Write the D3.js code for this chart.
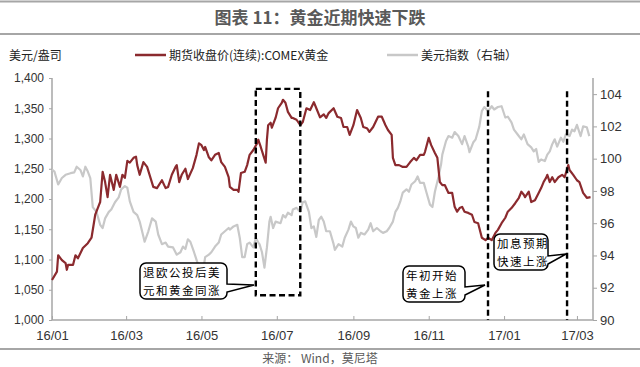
<!DOCTYPE html>
<html><head><meta charset="utf-8">
<script src="https://cdn.jsdelivr.net/npm/d3@7"></script>
<style>body{margin:0;background:#fff}svg{display:block}</style>
</head><body><svg id="c" width="640" height="367"></svg>
<script>
const goldDates=["2016-01-01","2016-01-05","2016-01-06","2016-01-09","2016-01-12","2016-01-13","2016-01-14","2016-01-18","2016-01-20","2016-01-22","2016-01-26","2016-01-30","2016-02-02","2016-02-05","2016-02-08","2016-02-09","2016-02-11","2016-02-13","2016-02-15","2016-02-17","2016-02-20","2016-02-22","2016-02-25","2016-02-27","2016-02-29","2016-03-02","2016-03-04","2016-03-07","2016-03-09","2016-03-10","2016-03-12","2016-03-15","2016-03-18","2016-03-20","2016-03-23","2016-03-26","2016-03-30","2016-04-02","2016-04-04","2016-04-07","2016-04-10","2016-04-11","2016-04-13","2016-04-15","2016-04-18","2016-04-20","2016-04-24","2016-04-27","2016-04-29","2016-05-01","2016-05-03","2016-05-04","2016-05-07","2016-05-09","2016-05-12","2016-05-15","2016-05-17","2016-05-20","2016-05-23","2016-05-24","2016-05-27","2016-05-30","2016-05-31","2016-06-02","2016-06-05","2016-06-07","2016-06-09","2016-06-12","2016-06-15","2016-06-16","2016-06-18","2016-06-20","2016-06-22","2016-06-23","2016-06-24","2016-06-26","2016-06-27","2016-06-30","2016-07-02","2016-07-05","2016-07-06","2016-07-08","2016-07-10","2016-07-13","2016-07-14","2016-07-17","2016-07-20","2016-07-22","2016-07-25","2016-07-28","2016-07-31","2016-08-02","2016-08-05","2016-08-08","2016-08-10","2016-08-12","2016-08-16","2016-08-19","2016-08-22","2016-08-24","2016-08-27","2016-08-29","2016-09-01","2016-09-04","2016-09-07","2016-09-09","2016-09-12","2016-09-14","2016-09-17","2016-09-21","2016-09-24","2016-09-27","2016-09-29","2016-10-02","2016-10-03","2016-10-05","2016-10-08","2016-10-11","2016-10-14","2016-10-17","2016-10-20","2016-10-22","2016-10-25","2016-10-28","2016-10-29","2016-11-01","2016-11-03","2016-11-06","2016-11-08","2016-11-10","2016-11-12","2016-11-14","2016-11-17","2016-11-20","2016-11-22","2016-11-24","2016-11-25","2016-11-26","2016-11-28","2016-11-30","2016-12-03","2016-12-06","2016-12-08","2016-12-11","2016-12-14","2016-12-17","2016-12-19","2016-12-22","2016-12-25","2016-12-27","2016-12-30","2017-01-02","2017-01-04","2017-01-07","2017-01-10","2017-01-13","2017-01-15","2017-01-17","2017-01-18","2017-01-21","2017-01-23","2017-01-26","2017-01-29","2017-01-31","2017-02-02","2017-02-04","2017-02-05","2017-02-07","2017-02-09","2017-02-11","2017-02-14","2017-02-17","2017-02-19","2017-02-22","2017-02-23","2017-02-26","2017-03-01","2017-03-03","2017-03-06","2017-03-09","2017-03-12"];
const goldValues=[1066,1080,1107,1099,1094,1083,1091,1091,1107,1102,1119,1127,1136,1174,1190,1195,1245,1228,1203,1240,1215,1240,1220,1240,1235,1263,1260,1268,1270,1256,1240,1261,1253,1240,1220,1218,1231,1218,1220,1240,1253,1256,1228,1240,1250,1233,1251,1273,1292,1289,1281,1286,1269,1264,1273,1276,1261,1253,1236,1220,1215,1215,1212,1243,1245,1256,1273,1281,1292,1298,1286,1273,1260,1298,1322,1326,1318,1334,1350,1359,1364,1359,1344,1334,1334,1331,1322,1327,1350,1347,1360,1350,1335,1340,1334,1342,1350,1336,1334,1319,1319,1306,1322,1347,1334,1319,1317,1311,1319,1336,1336,1322,1314,1306,1268,1256,1256,1253,1253,1261,1268,1264,1273,1273,1278,1301,1289,1276,1268,1228,1223,1223,1210,1210,1187,1179,1182,1185,1187,1179,1177,1174,1162,1160,1136,1132,1136,1132,1144,1149,1160,1169,1179,1185,1193,1202,1212,1207,1203,1212,1195,1198,1210,1218,1228,1235,1240,1228,1236,1228,1236,1240,1236,1256,1248,1240,1231,1228,1210,1202,1203];
const dxyDates=["2016-01-01","2016-01-03","2016-01-06","2016-01-09","2016-01-12","2016-01-16","2016-01-19","2016-01-21","2016-01-24","2016-01-26","2016-01-28","2016-01-30","2016-02-01","2016-02-03","2016-02-06","2016-02-09","2016-02-11","2016-02-13","2016-02-16","2016-02-18","2016-02-21","2016-02-24","2016-02-26","2016-02-29","2016-03-02","2016-03-04","2016-03-07","2016-03-10","2016-03-12","2016-03-16","2016-03-19","2016-03-22","2016-03-25","2016-03-27","2016-03-30","2016-04-02","2016-04-04","2016-04-08","2016-04-11","2016-04-14","2016-04-16","2016-04-18","2016-04-20","2016-04-22","2016-04-25","2016-04-28","2016-05-01","2016-05-03","2016-05-04","2016-05-07","2016-05-09","2016-05-12","2016-05-15","2016-05-17","2016-05-20","2016-05-23","2016-05-24","2016-05-27","2016-05-30","2016-06-01","2016-06-03","2016-06-05","2016-06-07","2016-06-09","2016-06-12","2016-06-14","2016-06-16","2016-06-17","2016-06-19","2016-06-21","2016-06-23","2016-06-25","2016-06-26","2016-06-28","2016-06-30","2016-07-04","2016-07-06","2016-07-08","2016-07-10","2016-07-13","2016-07-14","2016-07-17","2016-07-20","2016-07-22","2016-07-24","2016-07-27","2016-07-29","2016-07-31","2016-08-02","2016-08-04","2016-08-06","2016-08-08","2016-08-10","2016-08-13","2016-08-16","2016-08-17","2016-08-20","2016-08-23","2016-08-25","2016-08-28","2016-08-30","2016-09-01","2016-09-03","2016-09-05","2016-09-07","2016-09-10","2016-09-13","2016-09-15","2016-09-17","2016-09-20","2016-09-23","2016-09-25","2016-09-28","2016-09-30","2016-10-03","2016-10-05","2016-10-07","2016-10-09","2016-10-11","2016-10-14","2016-10-16","2016-10-18","2016-10-21","2016-10-23","2016-10-25","2016-10-28","2016-10-30","2016-11-02","2016-11-04","2016-11-06","2016-11-09","2016-11-11","2016-11-12","2016-11-15","2016-11-17","2016-11-20","2016-11-22","2016-11-25","2016-11-28","2016-11-30","2016-12-03","2016-12-04","2016-12-07","2016-12-09","2016-12-12","2016-12-14","2016-12-16","2016-12-19","2016-12-22","2016-12-24","2016-12-27","2016-12-30","2017-01-02","2017-01-04","2017-01-07","2017-01-09","2017-01-12","2017-01-15","2017-01-17","2017-01-20","2017-01-23","2017-01-25","2017-01-27","2017-01-29","2017-01-31","2017-02-03","2017-02-05","2017-02-07","2017-02-09","2017-02-11","2017-02-13","2017-02-16","2017-02-18","2017-02-20","2017-02-23","2017-02-25","2017-02-27","2017-03-01","2017-03-04","2017-03-06","2017-03-09","2017-03-11"];
const dxyValues=[99.33,99.2,98.4,98.8,99.0,99.1,99.15,99.5,99.3,98.9,99.5,99.2,98.8,97.0,96.7,95.9,95.7,96.3,96.7,96.85,97.3,97.6,98.1,98.3,98.2,97.35,96.7,96.5,96.1,94.85,95.5,96.3,96.1,95.3,94.7,94.8,94.55,94.5,94.05,94.2,94.55,94.4,95.0,94.85,94.2,93.5,93.3,93.4,93.9,94.05,94.2,94.55,94.8,95.3,95.5,95.7,95.6,95.8,95.9,95.1,93.9,93.9,94.7,94.8,94.5,95.1,94.8,94.7,94.2,93.25,94.5,96.1,96.4,95.7,96.1,96.0,96.5,96.35,96.65,96.5,96.85,96.95,96.7,97.3,97.35,96.7,95.7,95.8,95.15,96.2,96.4,96.1,95.5,95.5,94.7,94.35,94.7,94.55,95.1,95.6,96.1,95.8,95.7,95.1,95.4,95.3,95.6,96.0,95.5,95.7,95.5,95.4,95.5,95.7,96.1,96.7,96.95,97.35,97.9,98.1,97.95,98.4,98.6,98.9,98.5,98.5,97.95,97.15,97.0,97.95,98.9,99.65,100.25,101.1,101.4,101.3,101.65,101.4,100.9,101.4,100.75,100.4,101.0,101.2,102.0,102.95,103.2,102.95,103.25,103.05,103.2,103.25,102.55,102.6,102.25,101.8,101.5,101.2,101.5,100.9,100.7,100.45,100.6,99.8,99.95,99.85,100.25,100.45,100.9,101.2,100.75,101.3,101.05,101.5,101.4,101.8,101.7,102.1,101.4,102.0,101.95,101.4];
const leftTicks=[1000,1050,1100,1150,1200,1250,1300,1350,1400];
const rightTicks=[90,92,94,96,98,100,102,104];
const xTickDates=["2016-01-01","2016-03-01","2016-05-01","2016-07-01","2016-09-01","2016-11-01","2017-01-01","2017-03-01"];
const xTickLabels=["16/01","16/03","16/05","16/07","16/09","16/11","17/01","17/03"];
const seriesNames=["期货收盘价(连续):COMEX黄金","美元指数（右轴）"];
const eventDates=["2016-12-19","2017-02-21"];
const brexitWindow=["2016-06-14","2016-07-20"];

const parse=d3.timeParse("%Y-%m-%d");
const svg=d3.select("#c");
const L=52,R=593,T=78,B=320;
const x=d3.scaleTime().domain([parse("2016-01-01"),parse("2017-03-14")]).range([L,R]);
const yL=d3.scaleLinear().domain([1000,1400]).range([B,T]);
const yR=d3.scaleLinear().domain([90,105]).range([B,T]);
const font="'Liberation Sans',Arial,'Noto Sans CJK SC',sans-serif";
const cjk="'Noto Sans CJK SC','Noto Sans',sans-serif";

// frame lines
svg.append("line").attr("x1",0).attr("x2",640).attr("y1",1.5).attr("y2",1.5).attr("stroke","#a6a6a6").attr("stroke-width",2);
svg.append("line").attr("x1",0).attr("x2",640).attr("y1",34).attr("y2",34).attr("stroke","#a6a6a6").attr("stroke-width",2);
svg.append("line").attr("x1",0).attr("x2",640).attr("y1",349).attr("y2",349).attr("stroke","#a6a6a6").attr("stroke-width",2);
svg.append("text").attr("x",320).attr("y",24).attr("text-anchor","middle").attr("font-family",cjk).attr("font-weight","bold").attr("font-size",17).attr("fill","#595959").text("图表 11：黄金近期快速下跌");
svg.append("text").attr("x",320).attr("y",363).attr("text-anchor","middle").attr("font-family",cjk).attr("font-size",12).attr("fill","#595959").text("来源： Wind，莫尼塔");

// unit + legend
svg.append("text").attr("x",9).attr("y",60).attr("font-family",cjk).attr("font-size",12).attr("fill","#222").text("美元/盎司");
const lg=[{x:135,c:"#8b2a2e"},{x:387,c:"#c8c8c8"}];
lg.forEach((d,i)=>{
  svg.append("line").attr("x1",d.x).attr("x2",d.x+31).attr("y1",55).attr("y2",55).attr("stroke",d.c).attr("stroke-width",2.5);
  svg.append("text").attr("x",d.x+34).attr("y",59.5).attr("font-family",cjk).attr("font-size",12).attr("fill","#222").text(seriesNames[i]);
});

// axes
const axL=svg.append("g").attr("transform",`translate(${L},0)`).call(d3.axisLeft(yL).tickValues(leftTicks).tickSize(3).tickFormat(d3.format(",")));
const axR=svg.append("g").attr("transform",`translate(${R},0)`).call(d3.axisRight(yR).tickValues(rightTicks).tickSize(4).tickFormat(d3.format("d")));
const axB=svg.append("g").attr("transform",`translate(0,${B})`).call(d3.axisBottom(x).tickValues(xTickDates.map(parse)).tickSize(-4).tickFormat((d,i)=>xTickLabels[i]));
[axL,axR,axB].forEach(a=>{a.select(".domain").attr("stroke","#a6a6a6").attr("stroke-width",1.5);a.selectAll(".tick line").attr("stroke","#a6a6a6");a.selectAll("text").attr("font-family",font).attr("fill","#333");});
axL.select(".domain").attr("d",`M-0,${B}V${T}`);
axR.select(".domain").attr("d",`M0,${B}V${T}`);
axB.select(".domain").attr("d",`M${L},0H${R}`);
axL.selectAll("text").attr("font-size",12).attr("x",-8);
axR.selectAll("text").attr("font-size",13).attr("x",7);
axB.selectAll("text").attr("font-size",13).attr("y",11);

// series
const gold=goldDates.map((d,i)=>({d:parse(d),v:goldValues[i]}));
const dxy=dxyDates.map((d,i)=>({d:parse(d),v:dxyValues[i]}));
svg.append("path").datum(dxy).attr("fill","none").attr("stroke","#c8c8c8").attr("stroke-width",2.2).attr("stroke-linejoin","round")
  .attr("d",d3.line().x(d=>x(d.d)).y(d=>yR(d.v)));
svg.append("path").datum(gold).attr("fill","none").attr("stroke","#8b2a2e").attr("stroke-width",2.2).attr("stroke-linejoin","round")
  .attr("d",d3.line().x(d=>x(d.d)).y(d=>yL(d.v)));

// annotations
const dash={"stroke":"#000","stroke-width":2.4,"stroke-dasharray":"6,3.5","fill":"none"};
function sty(s,o){for(const k in o)s.attr(k,o[k]);return s;}
sty(svg.append("rect").attr("x",x(parse(brexitWindow[0]))).attr("y",yL(1382)).attr("width",x(parse(brexitWindow[1]))-x(parse(brexitWindow[0]))).attr("height",yL(1041)-yL(1382)),dash);
eventDates.forEach(d=>{const xx=x(parse(d));sty(svg.append("line").attr("x1",xx).attr("x2",xx).attr("y1",yL(1378)).attr("y2",B),dash);});

function callout(x0,y0,x1,y1,b1,b2,tx,ty,lines){
  const r=6;
  const p=`M${x0+r},${y0}H${x1-r}A${r},${r} 0 0 1 ${x1},${y0+r}V${b1}L${tx},${ty}L${x1},${b2}V${y1-r}A${r},${r} 0 0 1 ${x1-r},${y1}H${x0+r}A${r},${r} 0 0 1 ${x0},${y1-r}V${y0+r}A${r},${r} 0 0 1 ${x0+r},${y0}Z`;
  svg.append("path").attr("d",p).attr("fill","#fff").attr("stroke","#000").attr("stroke-width",1.5);
  lines.forEach((t,i)=>svg.append("text").attr("x",x0+3).attr("y",y0+14+i*17.5).attr("font-family",cjk).attr("font-size",11.5).attr("letter-spacing",1.5).attr("fill","#000").text(t));
}
callout(140,263,227,299,284,292,254,285,["退欧公投后美","元和黄金同涨"]);
callout(403,266,465,302,287,295,485,285,["年初开始","黄金上涨"]);
callout(494,234,548,270,256,264,566,254,["加息预期","快速上涨"]);
</script></body></html>
